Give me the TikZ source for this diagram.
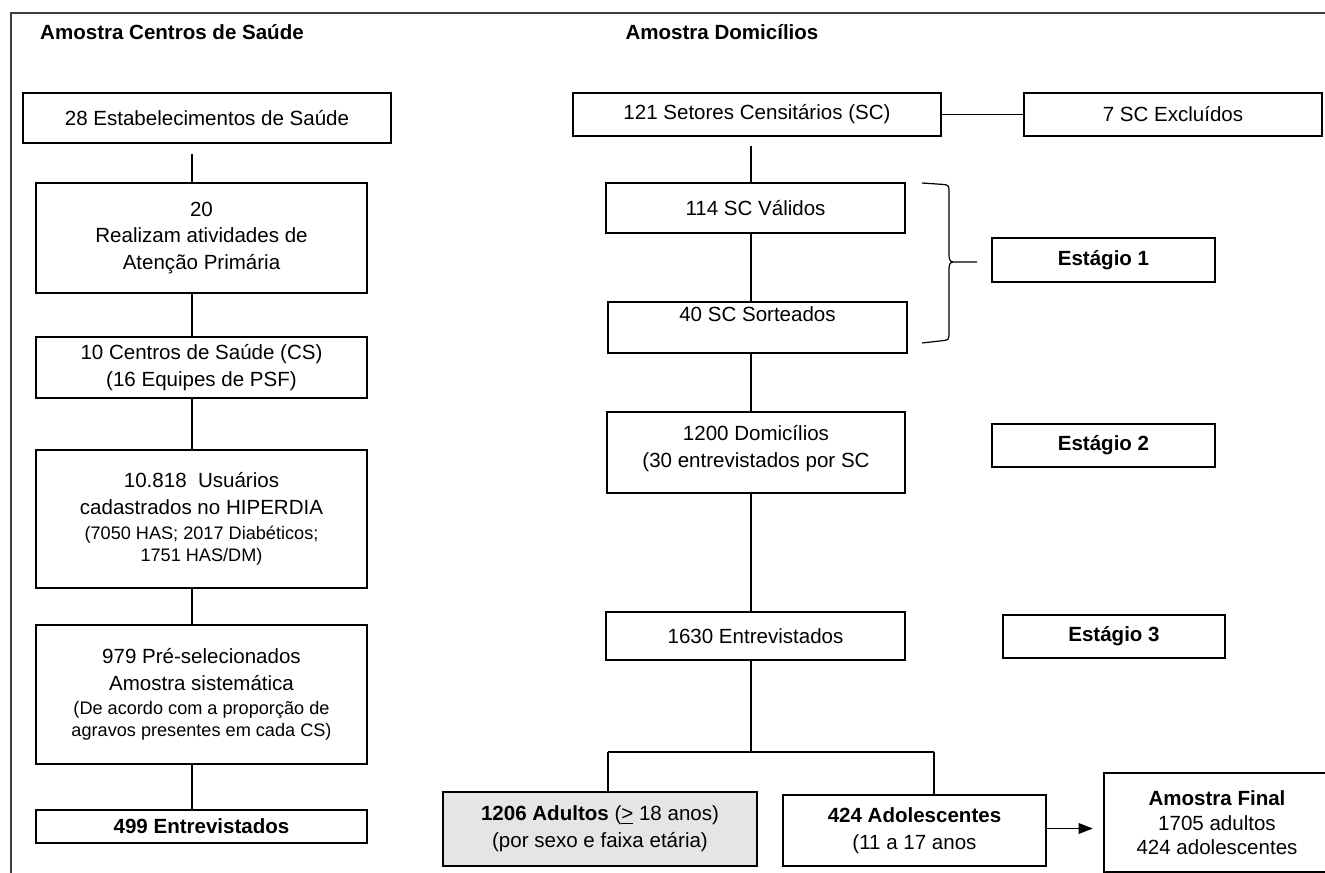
\documentclass[tikz,border=0pt]{standalone}
\usepackage{fontspec}
\setmainfont{Liberation Sans}
\usetikzlibrary{calc,arrows.meta}
\newcommand\mainf{\fontsize{15.4}{20}\selectfont}
\newcommand\smallf{\fontsize{13.6}{16.5}\selectfont}
\begin{document}
\begin{tikzpicture}[x=0.75pt,y=-0.75pt,
  bx/.style={draw, line width=0.9pt, inner sep=0pt, align=center, font=\mainf},
  conn/.style={line width=0.9pt},
  ttl/.style={font=\mainf\bfseries, inner sep=0pt}]
\useasboundingbox (0,0) rectangle (1325,873);
% frame
\draw[line width=1.1pt, black!75] (1330,13) -- (11,13) -- (11,880);
% titles
\node[ttl] (t1) at (172,32) {Amostra Centros de Saúde};
\node[ttl] (t2) at (722,32) {Amostra Domicílios};
% left column
\node[bx, minimum width=276pt, minimum height=37.5pt] (b1) at (207,118) {28 Estabelecimentos de Saúde};
\node[bx, minimum width=248.25pt, minimum height=82.5pt] (b2) at (201.5,238) {20\\Realizam atividades de\\Atenção Primária};
\node[bx, minimum width=248.25pt, minimum height=45.75pt] (b3) at (201.5,367.5) {10 Centros de Saúde (CS)\\(16 Equipes de PSF)};
\node[bx, minimum width=248.25pt, minimum height=103.5pt] (b4) at (201.5,519) {10.818\ \ Usuários\\cadastrados no HIPERDIA\\[-1pt]{\smallf (7050 HAS; 2017 Diabéticos;}\\[-3.5pt]{\smallf 1751 HAS/DM)}};
\node[bx, minimum width=248.25pt, minimum height=104.25pt] (b5) at (201.5,694.5) {979 Pré-selecionados\\Amostra sistemática\\[-2pt]{\smallf (De acordo com a proporção de}\\[-3.5pt]{\smallf agravos presentes em cada CS)}};
\node[bx, minimum width=248.25pt, minimum height=24.75pt] (b6) at (201.5,826.5) {\textbf{499 Entrevistados}};
\coordinate (lc) at (192,0);
\draw[conn] ($(b1.south -| lc)+(0,10)$) -- (b2.north -| lc);
\draw[conn] (b2.south -| lc) -- (b3.north -| lc);
\draw[conn] (b3.south -| lc) -- (b4.north -| lc);
\draw[conn] (b4.south -| lc) -- (b5.north -| lc);
\draw[conn] (b5.south -| lc) -- (b6.north -| lc);
% right column
\node[bx, minimum width=276pt, minimum height=32.25pt] (r1) at (757,114.5) {121 Setores Censitários (SC)};
\node[bx, minimum width=223.5pt, minimum height=32.25pt] (r1x) at (1173,114.5) {7 SC Excluídos};
\node[bx, minimum width=224.25pt, minimum height=37.5pt] (r2) at (755.5,208) {114 SC Válidos};
\node[bx, minimum width=224.25pt, minimum height=38.25pt] (r3) at (757.5,327.5) {40 SC Sorteados\\\mbox{}};
\node[bx, minimum width=223.5pt, minimum height=60.75pt] (r4) at (756,452.5) {1200 Domicílios\\(30 entrevistados por SC\\[-11pt]\mbox{}};
\node[bx, minimum width=224.25pt, minimum height=36pt] (r5) at (755.5,636) {1630 Entrevistados};
\node[bx, minimum width=167.25pt, minimum height=33pt] (s1) at (1103.5,260) {\textbf{Estágio 1}};
\node[bx, minimum width=167.25pt, minimum height=32.25pt] (s2) at (1103.5,445.5) {\textbf{Estágio 2}};
\node[bx, minimum width=166.5pt, minimum height=32.25pt] (s3) at (1114,636.5) {\textbf{Estágio 3}};
\node[bx, fill=black!10, minimum width=235.5pt, minimum height=55.5pt] (ad) at (600,829) {\textbf{1206 Adultos} (\underline{>} 18 anos)\\(por sexo e faixa etária)};
\node[bx, minimum width=197.25pt, minimum height=53.25pt] (adol) at (914.5,830.5) {\textbf{424 Adolescentes}\\(11 a 17 anos};
\node[bx, minimum width=169.5pt, minimum height=74.25pt] (fin) at (1217,822.5) {\textbf{Amostra Final}\\[-1pt]1705 adultos\\[-2pt]424 adolescentes};
\coordinate (rc) at (751,0);
\draw[conn] (r1.east) -- (r1x.west);
\draw[conn] ($(r1.south -| rc)+(0,9)$) -- (r2.north -| rc);
\draw[conn] (r2.south -| rc) -- (r3.north -| rc);
\draw[conn] (r3.south -| rc) -- (r4.north -| rc);
\draw[conn] (r4.south -| rc) -- (r5.north -| rc);
\coordinate (jm) at (751,752);
\coordinate (jl) at (608,752);
\coordinate (jr) at (934,752);
\draw[conn] (r5.south -| rc) -- (jm);
\draw[conn] (jl) -- (jr);
\draw[conn] (jl) -- (ad.north -| jl);
\draw[conn] (jr) -- (adol.north -| jr);
\draw[conn, -{Triangle[length=10.5pt,width=8pt]}, shorten >=8pt] ([yshift=1.5pt]adol.east) -- ([yshift=1.5pt]adol.east -| fin.west);
% brace
\coordinate (bt) at (977,262);
\draw[conn] (922,183) -- (944,184.5) .. controls (948,185) and (949,186) .. (949,190) -- (949,255) .. controls (949,259) and (950,262) .. (953,262) -- (bt);
\draw[conn] (953,262) .. controls (950,262) and (949,265) .. (949,269) -- (949,336) .. controls (949,339) and (948,340) .. (944,340.5) -- (922,343);
\end{tikzpicture}
\end{document}
